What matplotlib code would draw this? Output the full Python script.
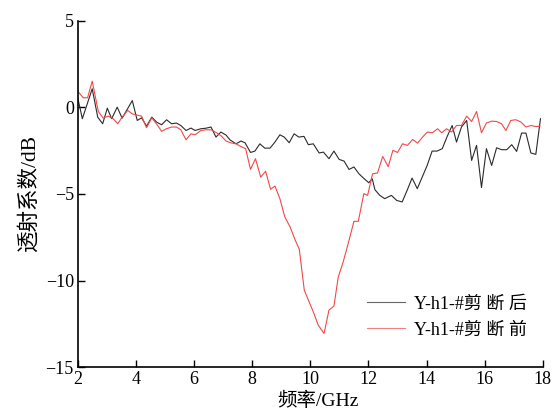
import numpy as np
import matplotlib
matplotlib.use("Agg")
from matplotlib import pyplot as plt

plt.rcParams['font.family'] = ['Liberation Serif', 'Noto Sans CJK SC', 'DejaVu Sans']
plt.rcParams['axes.unicode_minus'] = True

# after cutting (black)
x_after = [2.0, 2.15, 2.49, 2.68, 2.85, 3.01, 3.16, 3.35, 3.52, 3.87, 4.04, 4.19,
           4.36, 4.54, 4.71, 4.88, 5.05, 5.22, 5.39, 5.54, 5.72, 5.89, 6.03, 6.23,
           6.40, 6.58, 6.75, 6.92, 7.10, 7.23, 7.44, 7.61, 7.75, 7.94, 8.09, 8.26,
           8.43, 8.61, 8.78, 8.95, 9.10, 9.27, 9.44, 9.60, 9.78, 9.93, 10.10, 10.30,
           10.45, 10.64, 10.81, 10.99, 11.16, 11.33, 11.50, 11.67, 11.84, 12.01, 12.13,
           12.22, 12.39, 12.56, 12.79, 12.97, 13.16, 13.33, 13.50, 13.68, 13.85, 14.02,
           14.19, 14.36, 14.54, 14.71, 14.88, 15.03, 15.20, 15.38, 15.55, 15.72, 15.89,
           16.06, 16.24, 16.41, 16.58, 16.76, 16.93, 17.10, 17.27, 17.42, 17.59, 17.76,
           17.92]
y_after = [0.5, -0.65, 1.08, -0.56, -0.94, -0.04, -0.65, 0.02, -0.62, 0.40, -0.75, -0.60,
           -1.08, -0.56, -0.85, -1.00, -0.71, -0.94, -0.90, -1.04, -1.33, -1.19, -1.33, -1.23,
           -1.20, -1.13, -1.71, -1.42, -1.60, -1.87, -2.10, -1.94, -2.04, -2.60, -2.52, -2.10,
           -2.35, -2.35, -2.00, -1.58, -1.71, -2.04, -1.52, -1.71, -1.67, -2.15, -2.10, -2.63,
           -2.58, -2.96, -2.52, -3.00, -3.10, -3.58, -3.44, -3.83, -4.10, -4.35, -4.12,
           -4.75, -5.08, -5.27, -5.08, -5.37, -5.46, -4.79, -4.08, -4.69, -4.02, -3.35,
           -2.52, -2.52, -2.38, -1.67, -1.04, -2.00, -1.13, -0.75, -3.06, -2.19, -4.63,
           -2.38, -3.35, -2.33, -2.44, -2.44, -2.15, -2.54, -1.48, -1.48, -2.63, -2.71,
           -0.65]

# before cutting (red)
x_before = [2.00, 2.18, 2.33, 2.49, 2.70, 2.87, 3.04, 3.21, 3.37, 3.52, 3.71, 3.87,
            4.04, 4.19, 4.36, 4.54, 4.71, 4.88, 5.05, 5.22, 5.39, 5.54, 5.72, 5.89,
            6.03, 6.23, 6.40, 6.58, 6.75, 6.92, 7.10, 7.27, 7.44, 7.60, 7.77, 7.94,
            8.11, 8.29, 8.46, 8.63, 8.78, 8.95, 9.12, 9.30, 9.47, 9.62, 9.79, 9.93,
            10.10, 10.27, 10.47, 10.64, 10.81, 10.96, 11.13, 11.30, 11.50, 11.65, 11.84,
            11.97, 12.14, 12.31, 12.49, 12.68, 12.84, 13.00, 13.17, 13.34, 13.52, 13.69,
            13.86, 14.03, 14.20, 14.38, 14.52, 14.69, 14.86, 15.03, 15.20, 15.38, 15.55,
            15.72, 15.89, 16.06, 16.24, 16.41, 16.58, 16.73, 16.90, 17.07, 17.24, 17.42,
            17.59, 17.76, 17.90]
y_before = [0.92, 0.56, 0.56, 1.52, -0.23, -0.62, -0.50, -0.65, -0.94, -0.56, -0.17, -0.37,
            -0.44, -0.50, -1.17, -0.60, -0.96, -1.38, -1.23, -1.13, -1.13, -1.29, -1.87, -1.52,
            -1.58, -1.33, -1.29, -1.29, -1.44, -1.63, -1.94, -2.05, -2.10, -2.25, -2.38, -3.58,
            -2.96, -4.02, -3.69, -4.73, -4.54, -5.27, -6.33, -6.90, -7.63, -8.21, -10.56, -11.13,
            -11.81, -12.58, -13.06, -11.71, -11.48, -9.79, -8.92, -7.87, -6.58, -6.58, -4.98,
            -5.08, -3.83, -3.79, -2.83, -3.42, -2.48, -2.60, -2.10, -2.19, -1.85, -2.06,
            -1.71, -1.42, -1.46, -1.23, -1.46, -1.23, -1.42, -1.04, -1.04, -0.50, -0.81,
            -0.23, -1.46, -0.90, -0.79, -0.81, -0.94, -1.33, -0.75, -0.71, -0.83, -1.13,
            -1.04, -1.10, -1.08]

labels = ['Y-h1-#剪 断 后', 'Y-h1-#剪 断 前']
x_ticks = [2, 4, 6, 8, 10, 12, 14, 16, 18]
y_ticks = [5, 0, -5, -10, -15]

fig = plt.figure(figsize=(5.55, 4.11), dpi=100)
ax = fig.add_axes([0.1405, 0.107, 0.8375, 0.842])

ax.plot(x_after, y_after, color='#2b2b2b', lw=0.8, label=labels[0])
ax.plot(x_before, y_before, color='#f24848', lw=0.8, label=labels[1])

ax.set_xlim(2, 18)
ax.set_ylim(-15, 5)
ax.set_xticks(x_ticks)
ax.set_yticks(y_ticks)
ax.tick_params(direction='in', length=5, width=1, labelsize=13, pad=3)
ax.spines['top'].set_visible(False)
ax.spines['right'].set_visible(False)
for s in ['left', 'bottom']:
    ax.spines[s].set_linewidth(1.2)

ax.set_xlabel('频率/GHz', fontsize=14)
ax.xaxis.set_label_coords(0.517, -0.071)
ax.set_ylabel('透射系数/dB', fontsize=15.5, labelpad=4)

leg = ax.legend(loc='lower right', bbox_to_anchor=(1.0, 0.035), frameon=False,
                fontsize=13, handlelength=2.1, handletextpad=0.5, labelspacing=0.5)
leg.get_lines()[0].set_color('#666666')
leg.get_lines()[1].set_color('#f28080')

fig.savefig('out.png', dpi=100)
